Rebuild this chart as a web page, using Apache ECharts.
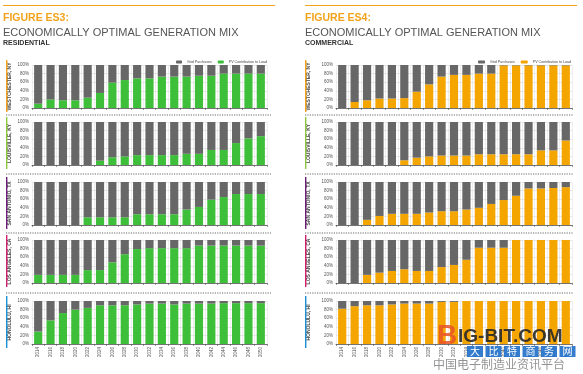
<!DOCTYPE html>
<html><head><meta charset="utf-8">
<script src="https://cdn.jsdelivr.net/npm/echarts@6/dist/echarts.min.js"></script>
<style>html,body{margin:0;padding:0;background:#fff}#c{width:583px;height:374px}</style>
</head><body><div id="c"></div><script>
const years = ['2014','2016','2018','2020','2022','2024','2026','2028','2030','2032','2034','2036','2038','2040','2042','2044','2046','2048','2050'];
const yTicks = [0,20,40,60,80,100];
const cities = ['WESTCHESTER, NY','LOUISVILLE, KY','SAN ANTONIO, TX','LOS ANGELES, CA','HONOLULU, HI'];
const cityColors = ['#f2a31b','#8dc63f','#6d2077','#d01f6e','#1b8fd2'];
// PV contribution to load (%), residential
const resWestchester = [10,20,18,18,24,35,59,65,69,69,73,73,73,75,75,80,80,80,80];
const resLouisville  = [0,0,0,0,0,10,18,20,23,23,23,23,26,26,35,35,51,62,67];
const resSanAntonio  = [0,0,0,0,18,18,18,18,25,25,25,25,36,42,59,65,72,72,72];
const resLosAngeles  = [19,19,19,19,30,30,48,67,79,81,81,81,81,87,87,87,87,87,87];
const resHonolulu    = [29,55,72,80,84,90,90,90,92,94,94,92,94,94,94,95,95,95,95];
// PV contribution to load (%), commercial
const comWestchester = [0,14,18,22,22,23,38,55,73,77,77,80,80,99,99,99,99,99,99];
const comLouisville  = [0,0,0,0,0,11,17,20,22,22,22,25,25,25,25,25,34,34,57];
const comSanAntonio  = [0,0,12,21,26,26,26,29,32,32,36,40,49,58,68,85,85,86,88];
const comLosAngeles  = [0,0,19,24,28,32,28,28,37,42,54,82,82,82,100,100,100,100,100];
const comHonolulu    = [82,88,90,90,92,94,94,94,98,98,100,100,100,100,100,100,100,100,100];

const resData = [resWestchester,resLouisville,resSanAntonio,resLosAngeles,resHonolulu];
const comData = [comWestchester,comLouisville,comSanAntonio,comLosAngeles,comHonolulu];

const GRAY = '#676767', GREEN = '#3dbf3a', ORANGE = '#f5a500';
const tops = [65,122,182,240,301];
const H = 43;
const sides = [
  {left:32, width:235, data:resData, pv:GREEN, accentX:6, nameGap:20, sepX1:6, sepX2:271, title:'FIGURE ES3:', sub:'RESIDENTIAL', tx:3},
  {left:336, width:236, data:comData, pv:ORANGE, accentX:305, nameGap:25, sepX1:305, sepX2:573, title:'FIGURE ES4:', sub:'COMMERCIAL', tx:305}
];
const grids=[], xAxes=[], yAxes=[], series=[], graphics=[];
let gi=0;
sides.forEach((s,si)=>{
  s.data.forEach((pv,ci)=>{
    grids.push({left:s.left, top:tops[ci], width:s.width, height:H});
    const bottom = ci===4;
    xAxes.push({type:'category', gridIndex:gi, data:years,
      axisLine:{lineStyle:{color:'#555',width:0.8}},
      axisTick:{show:true,length:2,lineStyle:{color:'#555',width:0.6}},
      axisLabel:{show:bottom, rotate:90, fontSize:4.5, color:'#555', margin:3, fontFamily:'Liberation Sans'},
      splitLine:{show:true, lineStyle:{color:'#e2e2e2', width:0.6}}});
    yAxes.push({type:'value', gridIndex:gi, min:0, max:100, interval:20,
      name:cities[ci], nameLocation:'middle', nameGap:s.nameGap,
      nameTextStyle:{fontSize:5, fontWeight:'bold', color:'#444', fontFamily:'Liberation Sans'},
      axisLine:{show:false}, axisTick:{show:false},
      axisLabel:{fontSize:4.5, color:'#555', margin:3, formatter:'{value}%', fontFamily:'Liberation Sans'},
      splitLine:{lineStyle:{color:'#d8d8d8', width:0.6}}});
    series.push({type:'bar', name:'PV Contribution to Load', xAxisIndex:gi, yAxisIndex:gi, stack:'s'+gi,
      data:pv, barCategoryGap:'34%', itemStyle:{color:s.pv}, animation:false});
    series.push({type:'bar', name:'Grid Purchases', xAxisIndex:gi, yAxisIndex:gi, stack:'s'+gi,
      data:pv.map(v=>100-v), barCategoryGap:'34%', itemStyle:{color:GRAY}, animation:false});
    graphics.push({type:'rect', z:50, shape:{x:s.accentX, y:tops[ci]-5, width:1.4, height:H+9}, style:{fill:cityColors[ci]}});
    if(ci<4){
      const sy = [115,174,233,293][ci];
      graphics.push({type:'line', z:50, shape:{x1:s.sepX1,y1:sy,x2:s.sepX2,y2:sy}, style:{stroke:'#444', lineWidth:0.8, lineDash:[1.2,1.2]}});
    }
    gi++;
  });
  graphics.push({type:'rect', z:50, shape:{x:s.tx, y:5, width:272, height:1}, style:{fill:'#f2a31b'}});
  graphics.push({type:'text', z:50, left:s.tx, top:13, style:{text:s.title, fill:'#f2a31b', font:'bold 10.5px "Liberation Sans"'}});
  graphics.push({type:'text', z:50, left:s.tx, top:27, style:{text:'ECONOMICALLY OPTIMAL GENERATION MIX', fill:'#555', font:'11px "Liberation Sans"'}});
  graphics.push({type:'text', z:50, left:s.tx, top:40, style:{text:s.sub, fill:'#333', font:'bold 7px "Liberation Sans"'}});
});
// watermark
graphics.push({type:'text', z:100, left:437, top:322, style:{text:'B', fill:'rgba(232,84,40,0.85)', font:'bold 28px "Liberation Sans"'}});
graphics.push({type:'text', z:100, left:458, top:327, style:{text:'IG-BIT.COM', fill:'rgba(40,40,40,0.9)', font:'bold 19px "Liberation Sans"'}});
const wm = ['大','比','特','商','务','网'];
wm.forEach((c,i)=>{
  graphics.push({type:'rect', z:100, shape:{x:467+i*18.5, y:346, width:16, height:11}, style:{fill:'rgba(30,110,200,0.9)'}});
  graphics.push({type:'text', z:101, left:470+i*18.5, top:346, style:{text:c, fill:'#fff', font:'10px "Noto Sans CJK SC"'}});
});
graphics.push({type:'text', z:100, left:433, top:358, style:{text:'中国电子制造业资讯平台', fill:'rgba(120,120,120,0.8)', font:'12px "Noto Sans CJK SC"'}});

const option = {
  animation:false,
  grid:grids, xAxis:xAxes, yAxis:yAxes, series:series,
  legend:[
    {left:171, top:55, width:110, itemWidth:6, itemHeight:3, itemGap:6, textStyle:{fontSize:3.6, color:'#444', fontFamily:'Liberation Sans'},
     data:[{name:'Grid Purchases', itemStyle:{color:GRAY}}, {name:'PV Contribution to Load', itemStyle:{color:GREEN}}], selectedMode:false},
    {left:473, top:55, width:110, itemWidth:7, itemHeight:3, itemGap:6, textStyle:{fontSize:3.6, color:'#444', fontFamily:'Liberation Sans'},
     data:[{name:'Grid Purchases', itemStyle:{color:GRAY}}, {name:'PV Contribution to Load', itemStyle:{color:ORANGE}}], selectedMode:false}
  ],
  graphic:graphics
};
const chart = echarts.init(document.getElementById('c'), null, {renderer:'canvas'});
chart.setOption(option);
</script></body></html>
